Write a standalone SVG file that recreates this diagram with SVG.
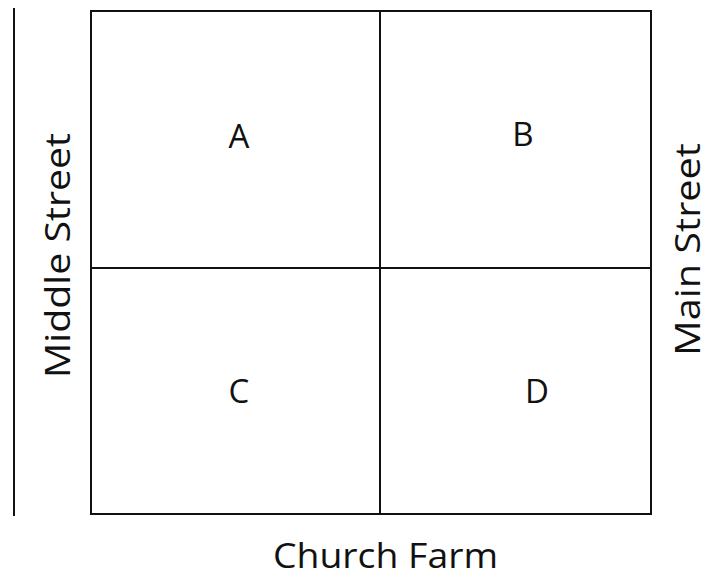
<svg xmlns="http://www.w3.org/2000/svg" width="719" height="580" viewBox="0 0 719 580">
<style>
.ln{stroke:#111;stroke-width:2;fill:none}
.t{font-family:"Open Sans","Noto Sans","Liberation Sans",sans-serif;fill:#111}
.lab{font-size:34px}
.cell{font-size:33px;text-anchor:middle}
</style>
<rect width="719" height="580" fill="#fff"/>
<g id="connectors">
<line class="ln" x1="14" y1="8" x2="14" y2="516"/>
</g>
<g id="plot">
<rect class="ln" x="91" y="11" width="560" height="503"/>
<line class="ln" x1="380" y1="11" x2="380" y2="514"/>
<line class="ln" x1="91" y1="268" x2="651" y2="268"/>
</g>
<g id="A"><text class="t cell" x="239" y="148">A</text></g>
<g id="B"><text class="t cell" x="523" y="146">B</text></g>
<g id="C"><text class="t cell" x="239" y="403">C</text></g>
<g id="D"><text class="t cell" x="537" y="403">D</text></g>
<g id="middle-street"><text class="t lab" transform="translate(70,378) rotate(-90)" textLength="245" lengthAdjust="spacingAndGlyphs">Middle Street</text></g>
<g id="main-street"><text class="t lab" transform="translate(700,356) rotate(-90)" textLength="213" lengthAdjust="spacingAndGlyphs">Main Street</text></g>
<g id="church-farm"><text class="t lab" x="273" y="568" textLength="225" lengthAdjust="spacingAndGlyphs">Church Farm</text></g>
</svg>
